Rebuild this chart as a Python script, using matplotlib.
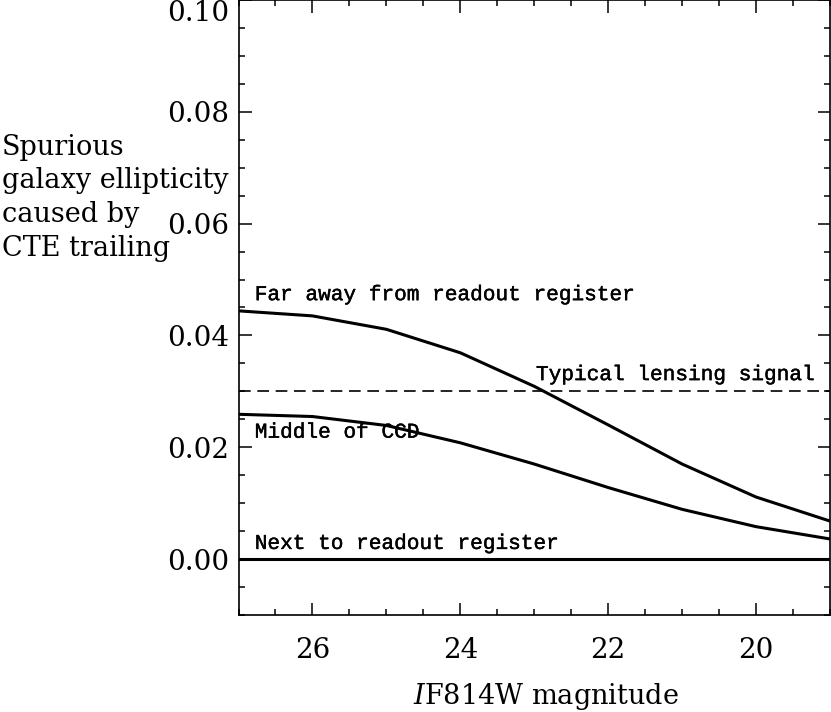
import numpy as np
import matplotlib
matplotlib.use("Agg")
import matplotlib.pyplot as plt
import matplotlib.patheffects as pe

# magnitudes along the x axis
mag = [27, 26, 25, 24, 23, 22, 21, 20, 19]
# spurious ellipticity, three positions on the CCD
far_away = [0.0444, 0.0435, 0.0411, 0.0369, 0.0309, 0.0240, 0.0170, 0.0111, 0.0068]
middle = [0.0259, 0.0255, 0.0239, 0.0208, 0.0170, 0.0128, 0.0089, 0.0058, 0.0036]
next_to = [0.0, 0.0, 0.0, 0.0, 0.0, 0.0, 0.0, 0.0, 0.0]
lensing = 0.03

ylabel_lines = ['Spurious', 'galaxy ellipticity', 'caused by', 'CTE trailing']

W, H = 831, 712
fig = plt.figure(figsize=(W / 100, H / 100), dpi=100)
ax = fig.add_axes([238.5 / W, 1 - 615 / H, (830 - 238.5) / W, 615 / H])

ax.plot(mag, far_away, color='k', lw=2.2)
ax.plot(mag, middle, color='k', lw=2.2)
ax.plot(mag, next_to, color='k', lw=2.2)
ax.axhline(lensing, color='k', lw=1.2, dashes=(7, 4))

ax.set_xlim(27, 19)
ax.set_ylim(-0.01, 0.10)
ax.set_xticks([26, 24, 22, 20])
ax.set_xticks(np.arange(19, 27.01, 0.5), minor=True)
ax.set_yticks([0.0, 0.02, 0.04, 0.06, 0.08, 0.10])
ax.set_yticks(np.arange(-0.01, 0.1001, 0.005), minor=True)
ax.set_yticklabels(['0.00', '0.02', '0.04', '0.06', '0.08', '0.10'])
ax.tick_params(which='both', direction='in', top=True, right=True, width=1.1)
ax.tick_params(which='major', length=9)
ax.tick_params(which='minor', length=4.5)
ax.tick_params(axis='x', pad=16)
ax.tick_params(axis='y', pad=7)
for lab in ax.get_xticklabels() + ax.get_yticklabels():
    lab.set_fontfamily('DejaVu Serif')
    lab.set_fontsize(20)
ax.get_yticklabels()[-1].set_va('top')
for s in ax.spines.values():
    s.set_linewidth(1.2)

# slightly heavier mono text, like the original plot's font
thick = [pe.withStroke(linewidth=0.3, foreground='k')]
mono = dict(family='Liberation Mono', fontsize=15.2, color='k', path_effects=thick)
ax.text(26.78, 0.0473, 'Far away from readout register', va='center', ha='left', **mono)
ax.text(19.22, 0.0330, 'Typical lensing signal', va='center', ha='right', **mono)
ax.text(26.78, 0.0227, 'Middle of CCD', va='center', ha='left', **mono)
ax.text(26.78, 0.0028, 'Next to readout register', va='center', ha='left', **mono)

plt.rcParams['mathtext.fontset'] = 'dejavuserif'
fig.text(546 / W, 1 - 696 / H, r'$I$F814W magnitude', family='DejaVu Serif',
         fontsize=19.5, ha='center', va='center')
# y label written line by line, left aligned at the figure edge
for i, line in enumerate(ylabel_lines):
    fig.text(2 / W, 1 - (155 + 33.5 * i) / H, line, family='DejaVu Serif',
             fontsize=19.5, ha='left', va='baseline')

fig.savefig('out.png', dpi=100)
